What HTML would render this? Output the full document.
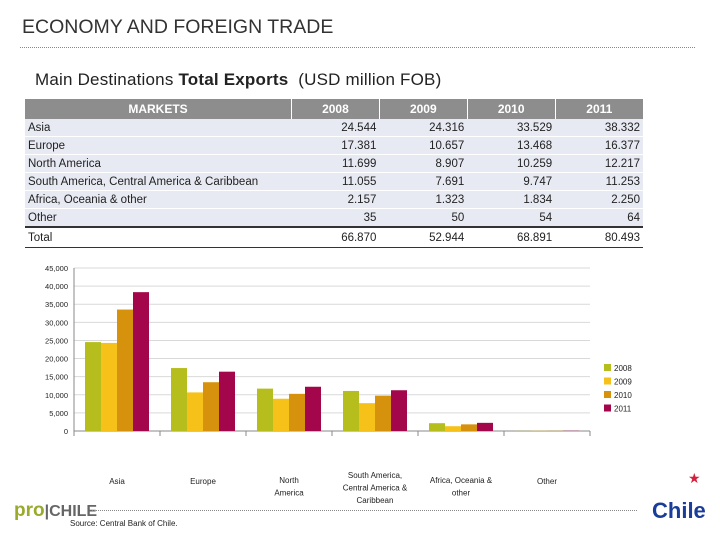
<!DOCTYPE html>
<html><head><meta charset="utf-8">
<style>
body{margin:0;width:720px;height:540px;background:#fff;font-family:"Liberation Sans",sans-serif;position:relative;overflow:hidden}
.abs{position:absolute}
table{border-collapse:collapse;font-size:11.5px;color:#222}
td{height:17px;padding:0 3px;background:#e8eaf3;border-bottom:1px solid #fff}
td.n{text-align:right}
th{background:#8d8d8d;color:#fff;height:18px;font-size:12px;font-weight:bold;border-right:1px solid #fff}
</style></head><body>
<div class="abs" style="left:22px;top:16px;font-size:19.5px;color:#333">ECONOMY AND FOREIGN TRADE</div>
<div class="abs" style="left:20px;top:47px;width:675px;border-top:1px dotted #888"></div>
<div class="abs" style="left:35px;top:70px;font-size:17px;color:#222;letter-spacing:0.2px">Main Destinations <b>Total Exports</b>&nbsp; (USD million FOB)</div>
<table class="abs" style="left:25px;top:99px;width:618px">
<tr><th style="width:264px">MARKETS</th><th>2008</th><th>2009</th><th>2010</th><th style="border-right:0">2011</th></tr>
<tr><td>Asia</td><td class="n">24.544</td><td class="n">24.316</td><td class="n">33.529</td><td class="n">38.332</td></tr>
<tr><td>Europe</td><td class="n">17.381</td><td class="n">10.657</td><td class="n">13.468</td><td class="n">16.377</td></tr>
<tr><td>North America</td><td class="n">11.699</td><td class="n">8.907</td><td class="n">10.259</td><td class="n">12.217</td></tr>
<tr><td>South America, Central America &amp; Caribbean</td><td class="n">11.055</td><td class="n">7.691</td><td class="n">9.747</td><td class="n">11.253</td></tr>
<tr><td>Africa, Oceania &amp; other</td><td class="n">2.157</td><td class="n">1.323</td><td class="n">1.834</td><td class="n">2.250</td></tr>
<tr><td style="border-bottom:2px solid #333">Other</td><td class="n" style="border-bottom:2px solid #333">35</td><td class="n" style="border-bottom:2px solid #333">50</td><td class="n" style="border-bottom:2px solid #333">54</td><td class="n" style="border-bottom:2px solid #333">64</td></tr>
<tr><td style="background:#fff;height:19px;border-bottom:1px solid #333">Total</td><td class="n" style="background:#fff;border-bottom:1px solid #333">66.870</td><td class="n" style="background:#fff;border-bottom:1px solid #333">52.944</td><td class="n" style="background:#fff;border-bottom:1px solid #333">68.891</td><td class="n" style="background:#fff;border-bottom:1px solid #333">80.493</td></tr>
</table>
<svg class="abs" style="left:0;top:0" width="720" height="540" id="chart"></svg>
<div class="abs" style="left:14px;top:500px;font-size:19px;color:#9aaa2a;font-weight:bold">pro<span style="color:#666;font-size:16px">|CHILE</span></div>
<div class="abs" style="left:92px;top:510px;width:545px;border-top:1px dotted #888"></div>
<div class="abs" style="left:70px;top:519px;font-size:8px;color:#222">Source: Central Bank of Chile.</div>
<div class="abs" style="left:652px;top:498px;font-size:22px;font-weight:bold;color:#1a3d9a">Chile</div>
<div class="abs" style="left:688px;top:470px;font-size:14px;color:#d4213d">★</div>
<script>
const categories=["Asia","Europe","North America","South America, Central America & Caribbean","Africa, Oceania & other","Other"];
const labelLines=[["Asia"],["Europe"],["North","America"],["South America,","Central America &","Caribbean"],["Africa, Oceania &","other"],["Other"]];
const years=["2008","2009","2010","2011"];
const v2008=[24544,17381,11699,11055,2157,35];
const v2009=[24316,10657,8907,7691,1323,50];
const v2010=[33529,13468,10259,9747,1834,54];
const v2011=[38332,16377,12217,11253,2250,64];
const yTicks=[0,5000,10000,15000,20000,25000,30000,35000,40000,45000];
const colors=["#b5be1c","#f6c21a","#d6920c","#a3064a"];
const series=[v2008,v2009,v2010,v2011];
const svg=document.getElementById('chart');const NS="http://www.w3.org/2000/svg";
const x0=74,x1=590,yb=431,yt=268,ymax=45000;
const y=v=>yb-(v/ymax)*(yb-yt);
const cw=(x1-x0)/categories.length;
function mk(t,a){const e=document.createElementNS(NS,t);for(const k in a)e.setAttribute(k,a[k]);svg.appendChild(e);return e;}
yTicks.forEach(t=>{
 const l=mk('line',{x1:x0,x2:x1,y1:y(t),y2:y(t),stroke:t?'#d9d9d9':'#888'});
 
 
 const tx=mk('text',{x:x0-6,y:y(t)+3,'font-size':7.5,'text-anchor':'end',fill:'#222'});
 tx.textContent=t.toLocaleString('en-US');
 
 
});
mk('line',{x1:x0,x2:x0,y1:yt,y2:yb,stroke:'#888'});
for(let i=0;i<=categories.length;i++){mk('line',{x1:x0+i*cw,x2:x0+i*cw,y1:yb,y2:yb+5,stroke:'#888'});}
const bw=16;
categories.forEach((c,i)=>{
 const gx=x0+i*cw+(cw-4*bw)/2;
 series.forEach((s,j)=>{
  const r=mk('rect',{x:gx+j*bw,y:y(s[i]),width:bw,height:yb-y(s[i]),fill:colors[j]});
  
  
 });
 const cx=x0+i*cw+cw/2;const lines=labelLines[i];
 const t0=lines.length===1?484:(lines.length===2?483:478);
 lines.forEach((ln,k)=>{
  const t=mk('text',{x:cx,y:t0+k*12.5,'font-size':8,'text-anchor':'middle',fill:'#222'});
  t.textContent=ln;
  
  
 });
});
years.forEach((yr,j)=>{
 const r=mk('rect',{x:604,y:364+j*13.5,width:7,height:7,fill:colors[j]});
 
 
 const t=mk('text',{x:614,y:371+j*13.5,'font-size':8,fill:'#222'});
 t.textContent=yr;
 
 
});
</script>
</body></html>
